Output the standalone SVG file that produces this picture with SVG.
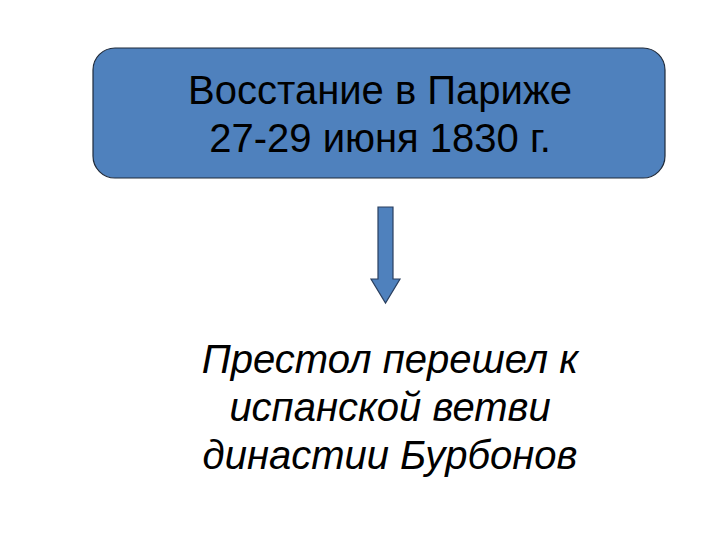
<svg xmlns="http://www.w3.org/2000/svg" width="720" height="540" viewBox="0 0 720 540">
<style>
.box{fill:#4F81BD;stroke:#1f2a3a;stroke-width:1.2}
.t{font-family:"Liberation Sans",Arial,sans-serif;fill:#000;text-anchor:middle}
.h{font-size:40px}
.i{font-size:40px;font-style:italic}
.arr{fill:#4F81BD;stroke:#2a3f5f;stroke-width:1.2}
</style>
<rect width="720" height="540" fill="#fff"/>
<g id="node-uprising">
<rect class="box" x="93" y="48" width="572" height="130" rx="22" ry="22"/>
<text class="t h" x="380" y="104">Восстание в Париже</text>
<text class="t h" x="380" y="152">27-29 июня 1830 г.</text>
</g>
<g id="connectors">
<polygon class="arr" points="378,207 393,207 393,279 400,279 385.5,303 371,279 378,279"/>
</g>
<g id="node-result">
<text class="t i" x="390" y="373">Престол перешел к</text>
<text class="t i" x="390" y="421">испанской ветви</text>
<text class="t i" x="390" y="469">династии Бурбонов</text>
</g>
</svg>
